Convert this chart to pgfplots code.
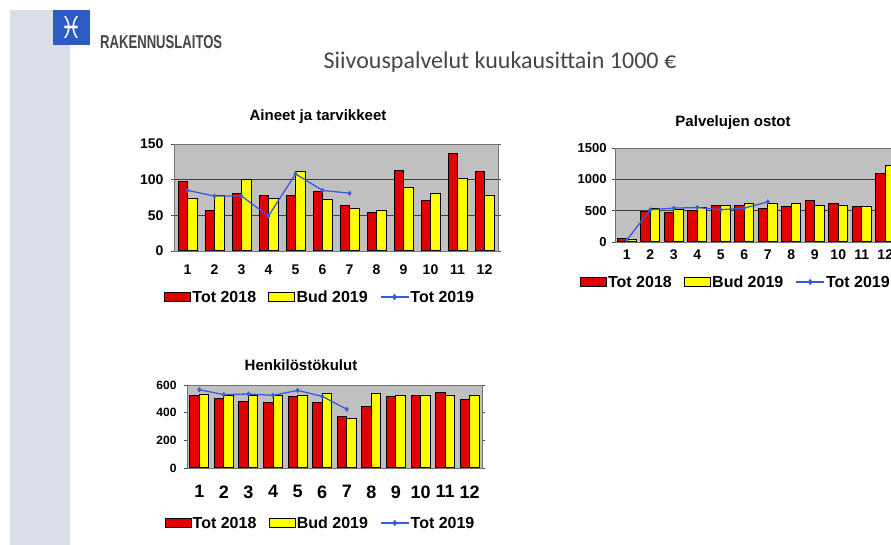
\documentclass[border=0pt]{standalone}
\usepackage{fontspec}
\setmainfont{Liberation Sans}
\newfontfamily\calib{Carlito}
\newfontfamily\dejavu{DejaVu Sans}
\usepackage{graphicx}
\usepackage{pgfplots}
\pgfplotsset{compat=1.18}
\definecolor{redc}{RGB}{225,0,0}
\definecolor{yelc}{RGB}{255,255,0}
\definecolor{bgc}{RGB}{192,192,192}
\definecolor{bluel}{RGB}{60,90,215}
\definecolor{stripc}{RGB}{217,222,232}
\definecolor{logoc}{RGB}{45,90,195}
\definecolor{titc}{RGB}{70,70,70}

\pgfplotsset{
  slidechart/.style={
    scale only axis, anchor=south west,
    xmin=0.5, xmax=12.5, ymin=0,
    xtick={1,2,3,4,5,6,7,8,9,10,11,12},
    xticklabels={1,2,3,4,5,6,7,8,9,10,11,12},
    axis background/.style={fill=bgc},
    ymajorgrids, grid style={draw=black!75, line width=0.6bp},
    axis line style={draw=black!55, line width=0.6bp},
    xtick style={draw=none},
    ytick style={draw=black!70, line width=0.6bp},
    tick align=outside, major tick length=3bp,
    legend columns=3,
    legend cell align=left,
    legend style={draw=none, fill=none, anchor=center,
      font=\bfseries\fontsize{16bp}{16bp}\selectfont,
      nodes={inner sep=1.2bp, text height=11.5bp, text depth=0bp},
      /tikz/every even column/.append style={column sep=11bp}},
  },
  redbar/.style={ybar, bar width=9.5bp, bar shift=-4.75bp, fill=redc, draw=black, line width=1bp,
    legend image code/.code={\draw[fill=redc, draw=black, line width=1bp] (0bp,-4.2bp) rectangle (26bp,4.2bp);}},
  yelbar/.style={ybar, bar width=9.5bp, bar shift=4.75bp, fill=yelc, draw=black, line width=1bp,
    legend image code/.code={\draw[fill=yelc, draw=black, line width=1bp] (0bp,-4.2bp) rectangle (26bp,4.2bp);}},
  blueln/.style={sharp plot, draw=bluel, line width=1.3bp, mark=diamond*, mark size=2.2bp,
    mark options={fill=bluel, draw=bluel, line width=0.5bp},
    legend image code/.code={\draw[mark repeat=2, mark phase=2, draw=bluel, line width=1.3bp, mark=diamond*, mark size=2.2bp, mark options={fill=bluel, draw=bluel}] plot coordinates {(0bp,0bp) (14bp,0bp) (28bp,0bp)};}},
}

\begin{document}
\begin{tikzpicture}[x=1bp,y=1bp]
\fill[white] (0,0) rectangle (891,545);
% left strip
\fill[stripc] (10,0) rectangle (70,535);
% logo
\fill[logoc] (53,500) rectangle (90,535);
\node[text=white, inner sep=0] at (71.5,517.5) {\resizebox{22bp}{22bp}{\dejavu ♓}};
\node[text=titc, inner sep=0, anchor=west] at (100,502.5) {\resizebox{122bp}{13bp}{\bfseries RAKENNUSLAITOS}};
% main title
\node[text=titc, inner sep=0] at (500,483) {\calib\fontsize{24bp}{24bp}\selectfont Siivouspalvelut kuukausittain 1000 €};

% chart titles
\node[inner sep=0] at (318,428) {\bfseries\fontsize{15bp}{15bp}\selectfont Aineet ja tarvikkeet};
\node[inner sep=0] at (733,422) {\bfseries\fontsize{15bp}{15bp}\selectfont Palvelujen ostot};
\node[inner sep=0] at (301,180) {\bfseries\fontsize{15bp}{15bp}\selectfont Henkilöstökulut};

% Chart 1: Aineet ja tarvikkeet
\begin{axis}[slidechart, at={(174bp,294bp)}, width=324bp, height=107bp,
  ymax=150, ytick={0,50,100,150}, yticklabels={0,50,100,150},
  yticklabel style={font=\bfseries\fontsize{14bp}{14bp}\selectfont, xshift=-4bp},
  xticklabel style={font=\bfseries\fontsize{14bp}{14bp}\selectfont, yshift=-7bp},
  legend style={at={(axis description cs:0.45,-0.43)}}]
\addplot[redbar] coordinates {(1,98) (2,57) (3,80) (4,78) (5,78) (6,83) (7,64) (8,54) (9,113) (10,71) (11,136) (12,111)};
\addplot[yelbar] coordinates {(1,73) (2,78) (3,100) (4,73) (5,111) (6,72) (7,60) (8,57) (9,89) (10,80) (11,102) (12,78)};
\addplot[blueln] coordinates {(1,85) (2,77) (3,77) (4,49) (5,108) (6,85) (7,81)};
\legend{Tot 2018, Bud 2019, Tot 2019}
\end{axis}

% Chart 2: Palvelujen ostot
\begin{axis}[slidechart, at={(615bp,303bp)}, width=282bp, height=94bp,
  ymax=1500, ytick={0,500,1000,1500}, yticklabels={0,500,1000,1500},
  yticklabel style={font=\bfseries\fontsize{13bp}{13bp}\selectfont, xshift=-2bp},
  xticklabel style={font=\bfseries\fontsize{14bp}{14bp}\selectfont, yshift=-1bp},
  legend style={at={(axis description cs:0.427,-0.426)}}]
\addplot[redbar] coordinates {(1,50) (2,490) (3,475) (4,505) (5,590) (6,590) (7,530) (8,560) (9,660) (10,620) (11,560) (12,1085)};
\addplot[yelbar] coordinates {(1,45) (2,530) (3,525) (4,550) (5,590) (6,620) (7,620) (8,620) (9,590) (10,590) (11,560) (12,1225)};
\addplot[blueln] coordinates {(1,30) (2,515) (3,540) (4,550) (5,515) (6,540) (7,640)};
\legend{Tot 2018, Bud 2019, Tot 2019}
\end{axis}

% Chart 3: Henkilostokulut
\begin{axis}[slidechart, at={(187bp,77bp)}, width=295bp, height=83bp,
  ymax=600, ytick={0,200,400,600}, yticklabels={0,200,400,600},
  ymajorgrids=false,
  yticklabel style={font=\bfseries\fontsize{12bp}{12bp}\selectfont, xshift=-4bp},
  xticklabel style={font=\bfseries\fontsize{18bp}{18bp}\selectfont, yshift=-11bp},
  legend style={at={(axis description cs:0.451,-0.663)}}]
\addplot[redbar] coordinates {(1,525) (2,501) (3,482) (4,470) (5,518) (6,475) (7,369) (8,446) (9,518) (10,525) (11,549) (12,494)};
\addplot[yelbar] coordinates {(1,530) (2,525) (3,525) (4,525) (5,525) (6,537) (7,361) (8,537) (9,525) (10,525) (11,525) (12,525)};
\addplot[blueln] coordinates {(1,566) (2,530) (3,535) (4,525) (5,561) (6,518) (7,425)};
\legend{Tot 2018, Bud 2019, Tot 2019}
\end{axis}
\pgfresetboundingbox
\useasboundingbox (0,0) rectangle (891,545);
\end{tikzpicture}
\end{document}
